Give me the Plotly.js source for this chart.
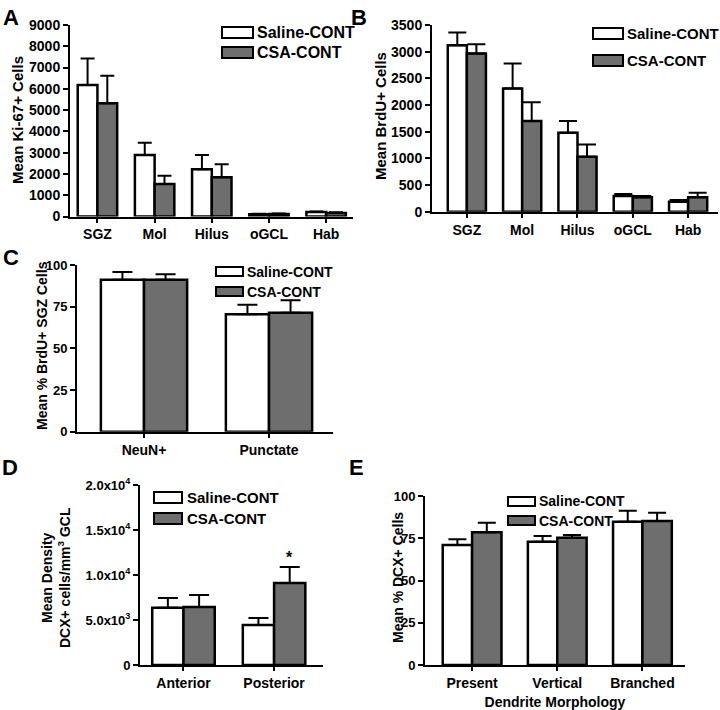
<!DOCTYPE html>
<html>
<head>
<meta charset="utf-8">
<script src="https://cdn.plot.ly/plotly-3.0.1.min.js"></script>
<style>
  html, body { margin: 0; padding: 0; background: #fff; }
  #fig { width: 720px; height: 710px; }
</style>
</head>
<body>
<div id="fig"></div>
<script>
// Panel A - Ki-67
const regions = ['SGZ', 'Mol', 'Hilus', 'oGCL', 'Hab'];
const ki67Saline = [6180, 2890, 2220, 110, 210];
const ki67SalineErr = [1250, 580, 670, 20, 30];
const ki67Csa = [5320, 1530, 1840, 120, 170];
const ki67CsaErr = [1300, 390, 610, 20, 25];

// Panel B - BrdU
const brduSaline = [3120, 2310, 1480, 295, 185];
const brduSalineErr = [240, 470, 220, 35, 35];
const brduCsa = [2965, 1700, 1030, 270, 270];
const brduCsaErr = [175, 350, 230, 25, 85];

// Panel C - % BrdU+ SGZ cells
const phenotypes = ['NeuN+', 'Punctate'];
const pctSaline = [91.2, 70.4];
const pctSalineErr = [4.6, 5.8];
const pctCsa = [91.2, 71.4];
const pctCsaErr = [3.2, 7.5];

// Panel D - DCX density
const zones = ['Anterior', 'Posterior'];
const densSaline = [6350, 4450];
const densSalineErr = [1100, 780];
const densCsa = [6450, 9100];
const densCsaErr = [1320, 1780];
const densTicks = [0, 5000, 10000, 15000, 20000];
const densTickText = ['0', '5.0x10<sup>3</sup>', '1.0x10<sup>4</sup>', '1.5x10<sup>4</sup>', '2.0x10<sup>4</sup>'];

// Panel E - dendrite morphology
const morphologies = ['Present', 'Vertical', 'Branched'];
const dcxSaline = [71, 73, 84.8];
const dcxSalineErr = [3.4, 3.3, 6.5];
const dcxCsa = [78.5, 75.3, 85.2];
const dcxCsaErr = [5.7, 1.6, 4.9];

const groupNames = ['Saline-CONT', 'CSA-CONT'];
const groupFills = ['#ffffff', '#6e6e6e'];

const W = 720, H = 710;
const FONT = 'Liberation Sans, Arial, Helvetica, sans-serif';
const px = x => x / W;
const py = y => 1 - y / H;
const bold = size => ({ size: size, family: FONT, weight: 'bold', color: '#000' });

function barTrace(cats, vals, errs, g, n, capW) {
    const suffix = n === 1 ? '' : String(n);
    return {
        type: 'bar',
        x: cats,
        y: vals,
        name: groupNames[g],
        xaxis: 'x' + suffix,
        yaxis: 'y' + suffix,
        marker: { color: groupFills[g], line: { color: '#000', width: 2.5 } },
        error_y: {
            type: 'data', symmetric: false, array: errs,
            arrayminus: errs.map(() => 0),
            color: '#000', thickness: 2, width: capW
        },
        hoverinfo: 'x+y'
    };
}

const data = [
    barTrace(regions, ki67Saline, ki67SalineErr, 0, 1, 7),
    barTrace(regions, ki67Csa, ki67CsaErr, 1, 1, 7),
    barTrace(regions, brduSaline, brduSalineErr, 0, 2, 9),
    barTrace(regions, brduCsa, brduCsaErr, 1, 2, 9),
    barTrace(phenotypes, pctSaline, pctSalineErr, 0, 3, 10),
    barTrace(phenotypes, pctCsa, pctCsaErr, 1, 3, 10),
    barTrace(zones, densSaline, densSalineErr, 0, 4, 10),
    barTrace(zones, densCsa, densCsaErr, 1, 4, 10),
    barTrace(morphologies, dcxSaline, dcxSalineErr, 0, 5, 9),
    barTrace(morphologies, dcxCsa, dcxCsaErr, 1, 5, 9)
];

function xAxis(left, right, range, anchor, fs) {
    return {
        type: 'category', domain: [px(left), px(right)], range: range, anchor: anchor,
        showline: true, linewidth: 2, linecolor: '#000',
        ticks: 'outside', ticklen: 4, tickwidth: 2, tickcolor: '#000',
        showgrid: false, zeroline: false, fixedrange: true,
        tickfont: bold(fs)
    };
}

function yAxis(bottom, top, range, anchor, fs, dtick) {
    return {
        domain: [py(bottom), py(top)], range: range, anchor: anchor,
        showline: true, linewidth: 2, linecolor: '#000',
        ticks: 'outside', ticklen: 5, tickwidth: 2, tickcolor: '#000',
        showgrid: false, zeroline: false, fixedrange: true, dtick: dtick, tick0: 0,
        tickfont: bold(fs)
    };
}

const layout = {
    width: W, height: H,
    margin: { l: 0, r: 0, t: 0, b: 0 },
    paper_bgcolor: '#fff', plot_bgcolor: '#fff',
    showlegend: false,
    barmode: 'group', bargap: 0.31, bargroupgap: 0,
    font: bold(13),
    xaxis: xAxis(70, 353, [-0.48, 4.47], 'y', 14),
    yaxis: yAxis(216.5, 25, [0, 9000], 'x', 14, 1000),
    xaxis2: xAxis(432, 718, [-0.63, 4.54], 'y2', 14),
    yaxis2: yAxis(211.7, 25, [0, 3500], 'x2', 14, 500),
    xaxis3: xAxis(77, 333, [-0.536, 1.512], 'y3', 14),
    yaxis3: yAxis(431.7, 265, [0, 100], 'x3', 13, 25),
    xaxis4: xAxis(140, 323, [-0.48, 1.54], 'y4', 14),
    yaxis4: Object.assign(yAxis(665, 485, [0, 20000], 'x4', 13), { tickvals: densTicks, ticktext: densTickText }),
    xaxis5: Object.assign(xAxis(425, 685, [-0.553, 2.5], 'y5', 14),
        { title: { text: 'Dendrite Morphology', standoff: 8, font: bold(14) } }),
    yaxis5: yAxis(665, 496, [0, 100], 'x5', 13, 25),
    shapes: [],
    annotations: []
};

// Y-axis titles, rotated, placed at pixel centres
const yTitles = [
    ['Mean Ki-67+ Cells', 17, 120, 15],
    ['Mean BrdU+ Cells', 380, 116, 15],
    ['Mean % BrdU+ SGZ Cells', 42, 346, 14],
    ['Mean Density<br>DCX+ cells/mm<sup>3</sup> GCL', 56, 578, 14],
    ['Mean % DCX+ Cells', 398, 578, 14]
];
yTitles.forEach(([t, x, y, s]) => {
    layout.annotations.push({
        xref: 'paper', yref: 'paper', x: px(x), y: py(y), xanchor: 'center', yanchor: 'middle',
        textangle: -90, showarrow: false, text: t, font: bold(s)
    });
});

// Legend boxes and labels for each panel (pixel positions)
const legends = [
    { x: 222, y: 27, w: 31, h: 11, gap: 20, tx: 255, size: 16 },
    { x: 593, y: 28, w: 30, h: 11, gap: 27, tx: 625, size: 15 },
    { x: 216, y: 267, w: 27, h: 9, gap: 20, tx: 245, size: 14 },
    { x: 154, y: 492, w: 28, h: 11, gap: 21, tx: 185, size: 15 },
    { x: 508, y: 497, w: 27, h: 9, gap: 19, tx: 537, size: 14 }
];
legends.forEach(L => {
    groupNames.forEach((name, g) => {
        const y0 = L.y + g * L.gap;
        layout.shapes.push({
            type: 'rect', xref: 'paper', yref: 'paper',
            x0: px(L.x), x1: px(L.x + L.w), y0: py(y0 + L.h), y1: py(y0),
            fillcolor: groupFills[g], line: { color: '#000', width: 2 }
        });
        layout.annotations.push({
            xref: 'paper', yref: 'paper', x: px(L.tx), y: py(y0 + L.h / 2),
            xanchor: 'left', yanchor: 'middle', showarrow: false, text: name,
            font: bold(L.size)
        });
    });
});

// Panel letters
const letters = [['A', 1, 3], ['B', 349, 3], ['C', 1, 243], ['D', 0, 453], ['E', 347, 453]];
letters.forEach(([t, x, y]) => {
    layout.annotations.push({
        xref: 'paper', yref: 'paper', x: px(x), y: py(y), xanchor: 'left', yanchor: 'top',
        showarrow: false, text: t, font: bold(22)
    });
});

// Significance marker above CSA posterior bar
layout.annotations.push({
    xref: 'x4', yref: 'y4', x: zones[1], y: densCsa[1] + densCsaErr[1],
    xshift: 15, yshift: 10, showarrow: false, text: '*',
    font: bold(16)
});

Plotly.newPlot('fig', data, layout, { staticPlot: true, displayModeBar: false });
</script>
</body>
</html>
